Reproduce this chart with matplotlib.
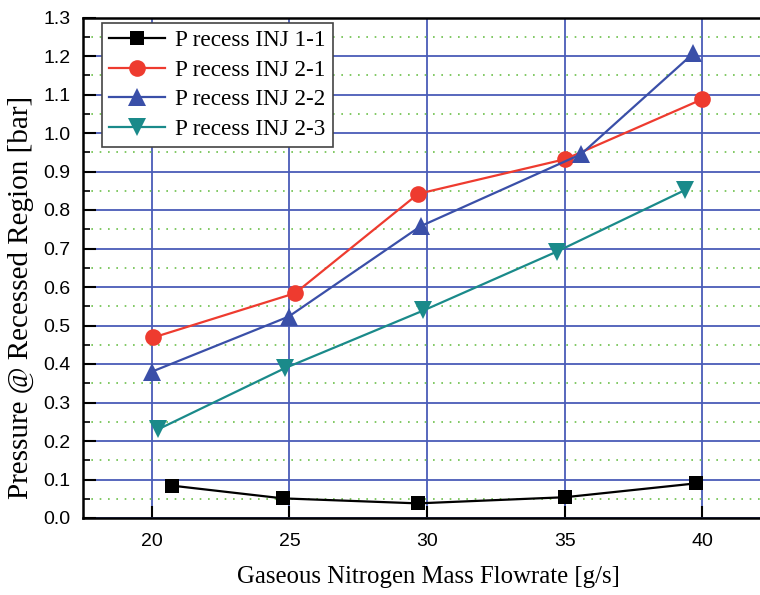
import matplotlib
matplotlib.use("Agg")
import matplotlib.pyplot as plt
from matplotlib.ticker import MultipleLocator, FormatStrFormatter

# Data
x_11 = [20.74, 24.76, 29.66, 35.02, 39.78]
y_11 = [0.084, 0.051, 0.038, 0.054, 0.090]
x_21 = [20.06, 25.21, 29.68, 35.02, 40.01]
y_21 = [0.469, 0.584, 0.842, 0.932, 1.088]
x_22 = [20.00, 24.97, 29.77, 35.60, 39.68]
y_22 = [0.380, 0.523, 0.758, 0.945, 1.207]
x_23 = [20.22, 24.83, 29.87, 34.72, 39.38]
y_23 = [0.230, 0.389, 0.539, 0.692, 0.852]
labels = ["P recess INJ 1-1", "P recess INJ 2-1", "P recess INJ 2-2", "P recess INJ 2-3"]

serif = ["Liberation Serif", "DejaVu Serif"]
sans = ["Liberation Sans", "DejaVu Sans"]

fig = plt.figure(figsize=(7.6, 5.95), dpi=100)
ax = fig.add_axes([83/760, 77/595, 1 - 83/760, 500.5/595])

grid_blue = "#4a5cb8"
grid_green = "#6cc04a"

ax.set_xlim(17.5, 42.1)
ax.set_ylim(0, 1.3)
ax.xaxis.set_major_locator(MultipleLocator(5))
ax.yaxis.set_major_locator(MultipleLocator(0.1))
ax.yaxis.set_minor_locator(MultipleLocator(0.05))
ax.yaxis.set_major_formatter(FormatStrFormatter("%.1f"))

ax.set_axisbelow(True)
ax.grid(True, which="major", axis="both", color=grid_blue, linewidth=1.3)
ax.grid(True, which="minor", axis="y", color=grid_green, linewidth=1.2, linestyle=(0, (1, 4)))

ms = dict(markeredgewidth=0)
ax.plot(x_11, y_11, color="black", marker="s", markersize=10, linewidth=1.6, label=labels[0], **ms)
ax.plot(x_21, y_21, color="#ee3b2f", marker="o", markersize=12, linewidth=1.6, label=labels[1], **ms)
ax.plot(x_22, y_22, color="#3a4fa8", marker="^", markersize=13, linewidth=1.6, label=labels[2], **ms)
ax.plot(x_23, y_23, color="#1a8a8a", marker="v", markersize=13, linewidth=1.6, label=labels[3], **ms)

for s in ["left", "top", "bottom"]:
    ax.spines[s].set_linewidth(1.8)
    ax.spines[s].set_color("black")
ax.spines["right"].set_visible(False)

ax.tick_params(axis="both", which="major", direction="in", length=9, width=1.5, color="black",
               labelsize=14)
ax.tick_params(axis="x", which="major", pad=11)
ax.tick_params(axis="y", which="major", pad=9)
ax.tick_params(axis="y", which="minor", direction="in", length=5, width=1.2, color="black")
ax.tick_params(axis="x", which="minor", length=0)
for lab in ax.get_xticklabels() + ax.get_yticklabels():
    lab.set_family(sans)

ax.set_xlabel("Gaseous Nitrogen Mass Flowrate [g/s]", fontsize=17.8, family=serif, labelpad=11)
ax.set_ylabel("Pressure @ Recessed Region [bar]", fontsize=21, family=serif, labelpad=7)
ax.xaxis.label.set_x(0.51)
ax.yaxis.label.set_y(0.44)

leg = ax.legend(loc="upper left", bbox_to_anchor=(19/677, 1 - 5.5/500.5), prop={"family": serif, "size": 16.7},
                frameon=True, fancybox=False, edgecolor="#444444", framealpha=1,
                handlelength=2.4, handletextpad=0.45, borderpad=0.3, labelspacing=0.36, borderaxespad=0)
leg.get_frame().set_linewidth(1.2)

fig.savefig("out.png", dpi=100)
